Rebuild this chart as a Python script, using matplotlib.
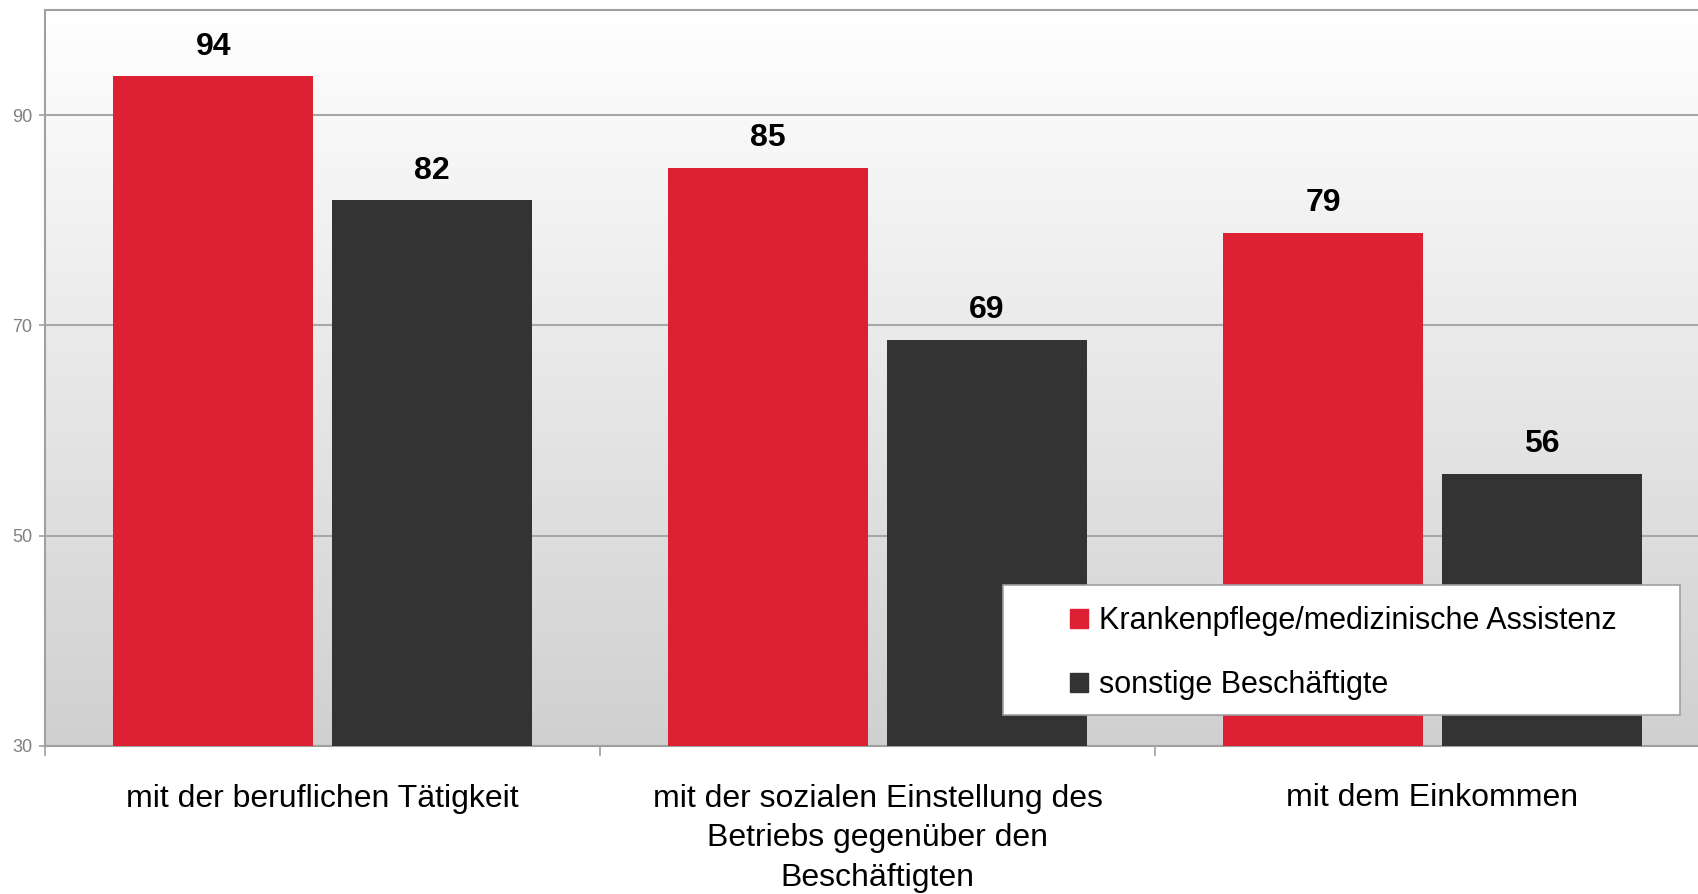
import numpy as np
import matplotlib
matplotlib.use("Agg")
import matplotlib.pyplot as plt
from matplotlib.patches import Patch, Rectangle

plt.rcParams['font.family'] = ['Liberation Sans', 'DejaVu Sans']

categories = ["mit der beruflichen Tätigkeit",
              "mit der sozialen Einstellung des\nBetriebs gegenüber den\nBeschäftigten",
              "mit dem Einkommen"]
series_names = ["Krankenpflege/medizinische Assistenz", "sonstige Beschäftigte"]
kranken = [93.7, 85.0, 78.8]
sonstige = [81.9, 68.6, 55.9]
yticks = [30, 50, 70, 90]

red = "#de2035"
dark = "#333333"

fig = plt.figure(figsize=(16.98, 8.94), dpi=100)
ax = fig.add_axes([45 / 1698, 1 - 746 / 894, 1665 / 1698, 736 / 894])

# gradient background
grad = np.linspace(0, 1, 256).reshape(-1, 1)
ax.imshow(grad, extent=[0, 1, 0, 1], transform=ax.transAxes, aspect="auto",
          cmap=matplotlib.colors.LinearSegmentedColormap.from_list("bg", ["#ffffff", "#d0d0d0"]),
          zorder=0)

x = np.arange(len(categories))
w = 0.36
off = 0.197
b1 = ax.bar(x - off, kranken, w, color=red, zorder=3)
b2 = ax.bar(x + off, sonstige, w, color=dark, zorder=3)

for bars, vals in ((b1, kranken), (b2, sonstige)):
    for r, v in zip(bars, vals):
        ax.text(r.get_x() + r.get_width() / 2, v + 1.4, "%d" % round(v),
                ha="center", va="bottom", fontsize=23, fontweight="bold", zorder=4)

ax.set_xlim(-0.5, 2.5)
ax.set_ylim(30, 100)
ax.set_yticks(yticks)
ax.set_yticklabels([str(t) for t in yticks], color="#808080", fontsize=13)
ax.yaxis.grid(True, color="#a8a8a8", linewidth=1.5, zorder=1)
ax.set_axisbelow(True)

ax.set_xticks(x)
ax.set_xticklabels(categories, fontsize=23, linespacing=1.42)
ax.tick_params(axis="x", length=0, pad=27)
ax.set_xticks([-0.5, 0.5, 1.5, 2.5], minor=True)
ax.tick_params(axis="x", which="minor", length=7, color="#a0a0a0", width=1.2)
ax.tick_params(axis="y", length=4, color="#a0a0a0", width=1.2, pad=5)

for s in ("left", "top", "bottom"):
    ax.spines[s].set_color("#a0a0a0")
    ax.spines[s].set_linewidth(1.5)
ax.spines["right"].set_visible(False)

# legend box
fig.patches.append(Rectangle((1003 / 1698, 1 - 715 / 894), 677 / 1698, 130 / 894,
                             transform=fig.transFigure, facecolor="white",
                             edgecolor="#a0a0a0", linewidth=1.2, zorder=5))
handles = [Patch(color=red), Patch(color=dark)]
leg = fig.legend(handles, series_names, loc="upper left",
                 bbox_to_anchor=(1070 / 1698, 1 - 606 / 894),
                 fontsize=22, frameon=False, handlelength=0.6,
                 handleheight=0.6, handletextpad=0.35, labelspacing=1.12,
                 borderpad=0, borderaxespad=0)
leg.set_zorder(6)

fig.savefig("out.png", dpi=100)
